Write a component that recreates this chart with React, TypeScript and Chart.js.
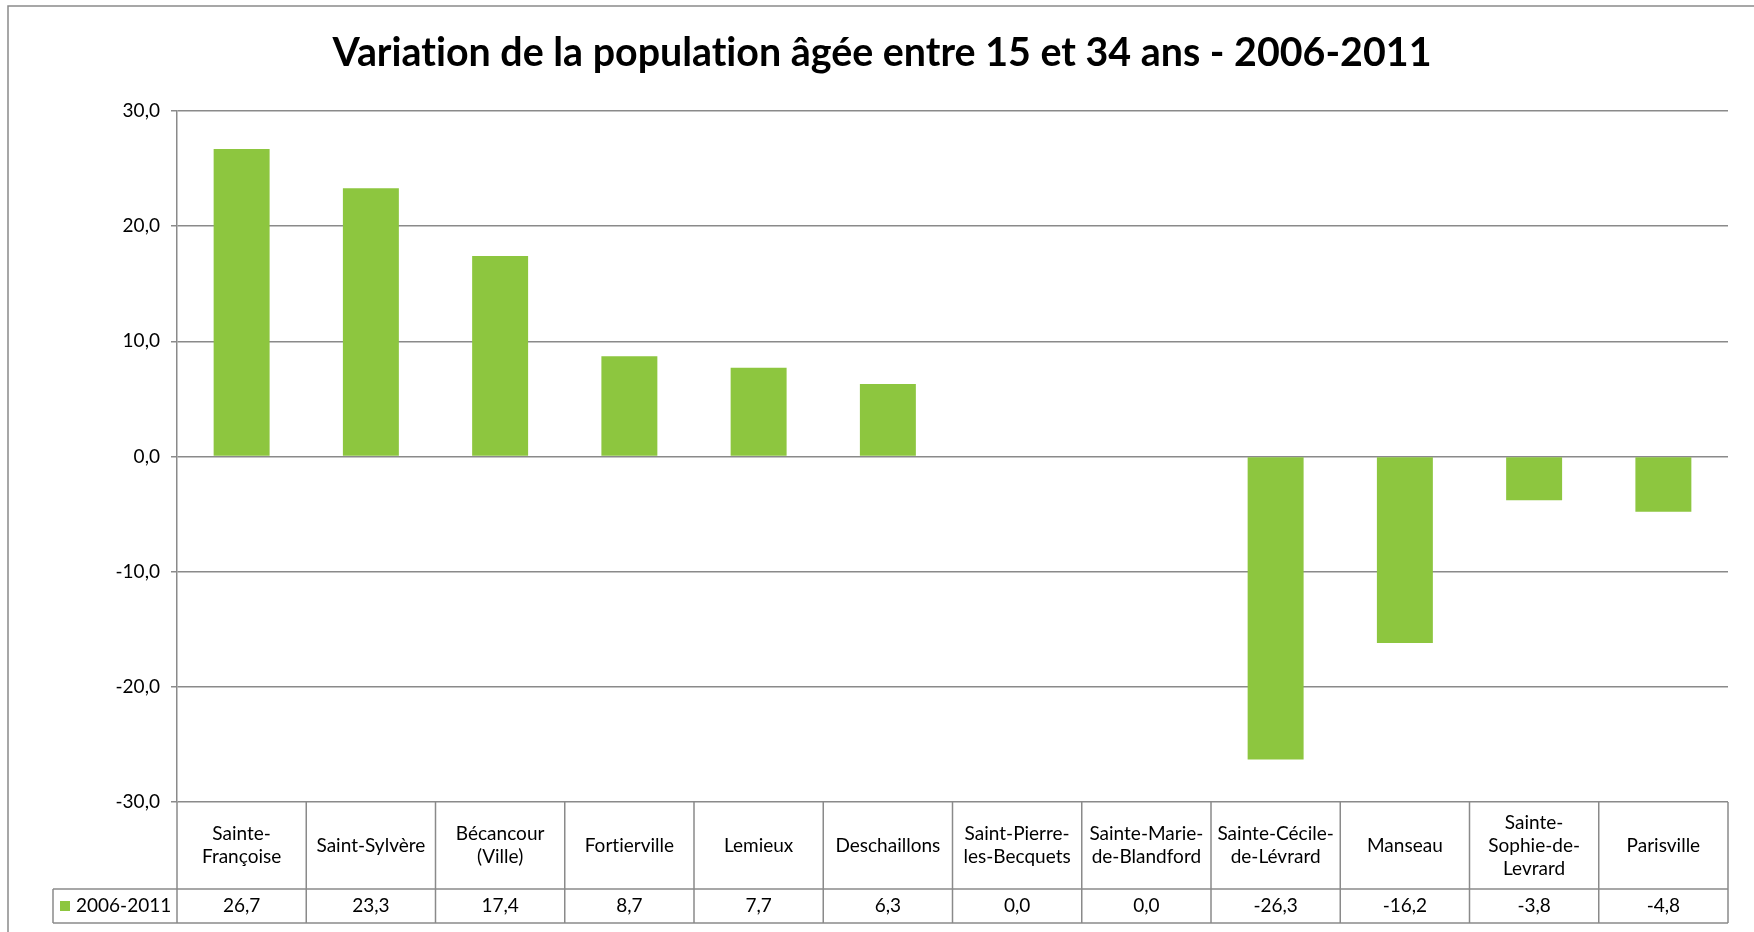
import React, { useEffect, useRef } from 'react';
import { Chart, registerables } from 'chart.js';

Chart.register(...registerables);

const chartTitle = 'Variation de la population âgée entre 15 et 34 ans - 2006-2011';
const seriesLabel = '2006-2011';
const categories: string[][] = [
  ['Sainte-', 'Françoise'],
  ['Saint-Sylvère'],
  ['Bécancour', '(Ville)'],
  ['Fortierville'],
  ['Lemieux'],
  ['Deschaillons'],
  ['Saint-Pierre-', 'les-Becquets'],
  ['Sainte-Marie-', 'de-Blandford'],
  ['Sainte-Cécile-', 'de-Lévrard'],
  ['Manseau'],
  ['Sainte-', 'Sophie-de-', 'Levrard'],
  ['Parisville'],
];
const values: number[] = [26.7, 23.3, 17.4, 8.7, 7.7, 6.3, 0.0, 0.0, -26.3, -16.2, -3.8, -4.8];
const yMin = -30;
const yMax = 30;
const yStep = 10;

const GREEN = '#8DC63F';
const GRID = '#8a8a8a';
const FONT = 'Lato, "Open Sans", sans-serif';
const TXT = 19;

const fmt = (v: number) => v.toFixed(1).replace('.', ',');

const noLig = (ctx: any) => {
  try {
    ctx.letterSpacing = '0.01px';
  } catch (e) {}
};

const decorPlugin = {
  id: 'decor',
  beforeDraw(chart: any) {
    noLig(chart.ctx);
  },
  afterDraw(chart: any) {
    const { ctx, chartArea, scales } = chart;
    const xs = scales.x;
    const n = categories.length;
    const right = chartArea.right;
    const w = (right - chartArea.left) / n;
    const top = chartArea.bottom;
    const headerBottom = top + 87;
    const rowBottom = headerBottom + 34;
    const legendLeft = 53;

    ctx.save();
    noLig(ctx);
    // outer border
    ctx.strokeStyle = GRID;
    ctx.lineWidth = 1.5;
    ctx.beginPath();
    ctx.moveTo(8, 932);
    ctx.lineTo(8, 6);
    ctx.lineTo(1754, 6);
    ctx.stroke();

    // title
    ctx.fillStyle = '#000';
    let size = 36;
    ctx.font = `bold ${size}px ${FONT}`;
    const tw = ctx.measureText(chartTitle).width;
    size = (size * 1099) / tw;
    ctx.font = `bold ${size}px ${FONT}`;
    ctx.textAlign = 'center';
    ctx.textBaseline = 'middle';
    ctx.fillText(chartTitle, 882, 53);

    // table lines
    ctx.strokeStyle = GRID;
    ctx.lineWidth = 1.5;
    ctx.beginPath();
    for (let i = 0; i <= n; i++) {
      const x = i < n ? xs.getPixelForValue(i) - w / 2 : xs.getPixelForValue(n - 1) + w / 2;
      ctx.moveTo(x, top);
      ctx.lineTo(x, rowBottom);
    }
    ctx.moveTo(legendLeft, headerBottom);
    ctx.lineTo(right, headerBottom);
    ctx.moveTo(legendLeft, rowBottom);
    ctx.lineTo(right, rowBottom);
    ctx.moveTo(legendLeft, headerBottom);
    ctx.lineTo(legendLeft, rowBottom);
    ctx.stroke();

    // header text
    ctx.fillStyle = '#000';
    ctx.font = `${TXT}px ${FONT}`;
    ctx.textAlign = 'center';
    ctx.textBaseline = 'middle';
    const lh = 23;
    const hc = (top + headerBottom) / 2;
    categories.forEach((lines, i) => {
      const cx = xs.getPixelForValue(i);
      const start = hc - ((lines.length - 1) * lh) / 2;
      lines.forEach((ln, j) => ctx.fillText(ln, cx, start + j * lh));
    });

    // values row
    const rc = (headerBottom + rowBottom) / 2;
    values.forEach((v, i) => {
      ctx.fillText(fmt(v), xs.getPixelForValue(i), rc);
    });

    // legend cell
    ctx.fillStyle = GREEN;
    ctx.fillRect(60, rc - 5, 10, 10);
    ctx.fillStyle = '#000';
    ctx.textAlign = 'left';
    ctx.fillText(seriesLabel, 76, rc);
    ctx.restore();
  },
};

export default function App() {
  const ref = useRef<HTMLCanvasElement>(null);
  useEffect(() => {
    if (!ref.current) return;
    const chart = new Chart(ref.current, {
      type: 'bar',
      data: {
        labels: categories.map((c) => c.join(' ')),
        datasets: [
          {
            label: seriesLabel,
            data: values,
            backgroundColor: GREEN,
            borderWidth: 0,
            barPercentage: 0.433,
            categoryPercentage: 1,
          },
        ],
      },
      options: {
        responsive: false,
        animation: false,
        layout: { padding: { left: 0, right: 26, top: 111, bottom: 130 } },
        plugins: {
          legend: { display: false },
          title: { display: false },
          tooltip: { enabled: false },
        },
        scales: {
          x: { display: false, offset: true },
          y: {
            min: yMin,
            max: yMax,
            afterFit: (s: any) => {
              s.width = 177;
            },
            ticks: {
              stepSize: yStep,
              padding: 11,
              color: '#000',
              font: { family: FONT, size: TXT },
              callback: (v: any) => fmt(Number(v)),
            },
            grid: { color: GRID, lineWidth: 1.5, tickLength: 6, drawTicks: true },
            border: { color: GRID, width: 1.5 },
          },
        },
      },
      plugins: [decorPlugin],
    });
    return () => chart.destroy();
  }, []);
  return (
    <div style={{ position: 'fixed', left: 0, top: 0, width: 1754, height: 932, background: '#fff' }}>
      <canvas ref={ref} width={1754} height={932} />
    </div>
  );
}
